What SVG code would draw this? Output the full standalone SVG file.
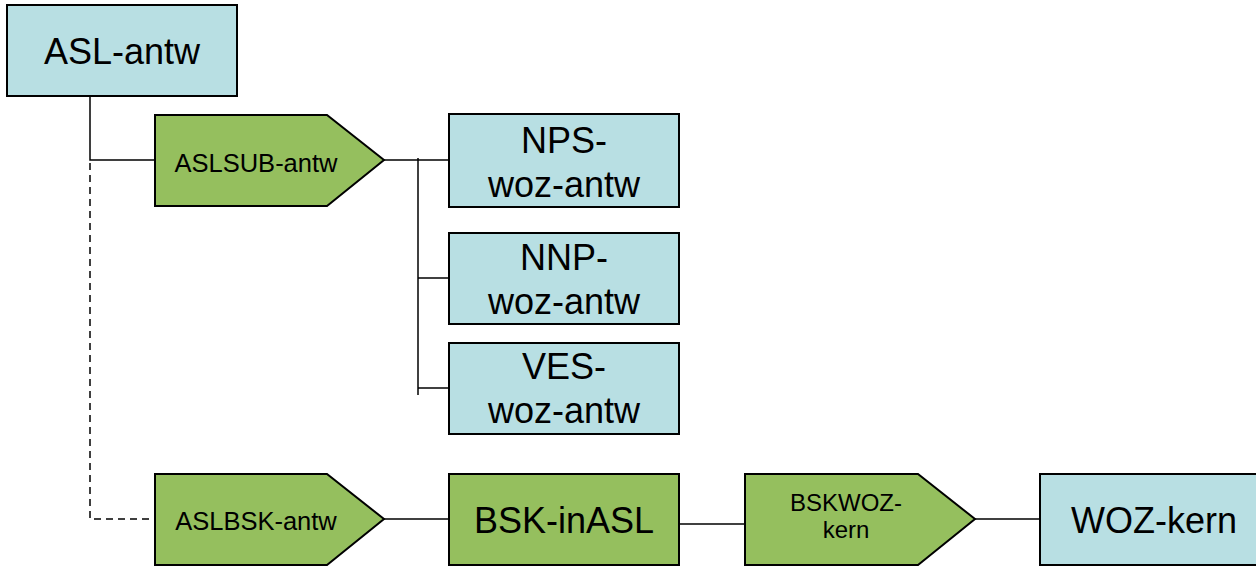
<svg xmlns="http://www.w3.org/2000/svg" width="1256" height="567" viewBox="0 0 1256 567">
<style>
.blue{fill:#B8DFE3;stroke:#000;stroke-width:2}
.green{fill:#95BF5E;stroke:#000;stroke-width:2}
.ln{fill:none;stroke:#000;stroke-width:1.5}
.dash{fill:none;stroke:#000;stroke-width:1.5;stroke-dasharray:7 5}
text{font-family:"Liberation Sans",Arial,sans-serif;fill:#000;text-anchor:middle}
.big{font-size:36px}
.sm{font-size:25.5px}
.sm2{font-size:24px}
</style>
<rect width="1256" height="567" fill="#fff"/>
<g id="connectors">
<path class="ln" d="M90,96 V160 H155"/>
<path class="dash" d="M90,163 V519 H155"/>
<path class="ln" d="M384,160 H449"/>
<path class="ln" d="M418,158 V395"/>
<path class="ln" d="M418,278 H449"/>
<path class="ln" d="M418,388 H449"/>
<path class="ln" d="M384,519 H449"/>
<path class="ln" d="M679,524 H745"/>
<path class="ln" d="M975,519 H1040"/>
</g>
<g id="ASL-antw">
<rect class="blue" x="7" y="5" width="230" height="91"/>
<text class="big" x="122" y="64">ASL-antw</text>
</g>
<g id="ASLSUB-antw">
<polygon class="green" points="155,115 327,115 384,160 327,206 155,206"/>
<text class="sm" x="256" y="172">ASLSUB-antw</text>
</g>
<g id="NPS-woz-antw">
<rect class="blue" x="449" y="114" width="230" height="93"/>
<text class="big" x="564" y="153">NPS-</text>
<text class="big" x="564" y="197">woz-antw</text>
</g>
<g id="NNP-woz-antw">
<rect class="blue" x="449" y="233" width="230" height="91"/>
<text class="big" x="564" y="270">NNP-</text>
<text class="big" x="564" y="314">woz-antw</text>
</g>
<g id="VES-woz-antw">
<rect class="blue" x="449" y="343" width="230" height="91"/>
<text class="big" x="564" y="379">VES-</text>
<text class="big" x="564" y="423">woz-antw</text>
</g>
<g id="ASLBSK-antw">
<polygon class="green" points="155,474 327,474 384,519 327,565 155,565"/>
<text class="sm" x="256" y="530">ASLBSK-antw</text>
</g>
<g id="BSK-inASL">
<rect class="green" x="449" y="474" width="230" height="91"/>
<text class="big" x="564" y="533">BSK-inASL</text>
</g>
<g id="BSKWOZ-kern">
<polygon class="green" points="745,474 918,474 975,519 918,565 745,565"/>
<text class="sm2" x="846" y="511">BSKWOZ-</text>
<text class="sm2" x="846" y="538">kern</text>
</g>
<g id="WOZ-kern">
<rect class="blue" x="1040" y="474" width="230" height="91"/>
<text class="big" x="1154" y="533">WOZ-kern</text>
</g>
</svg>
